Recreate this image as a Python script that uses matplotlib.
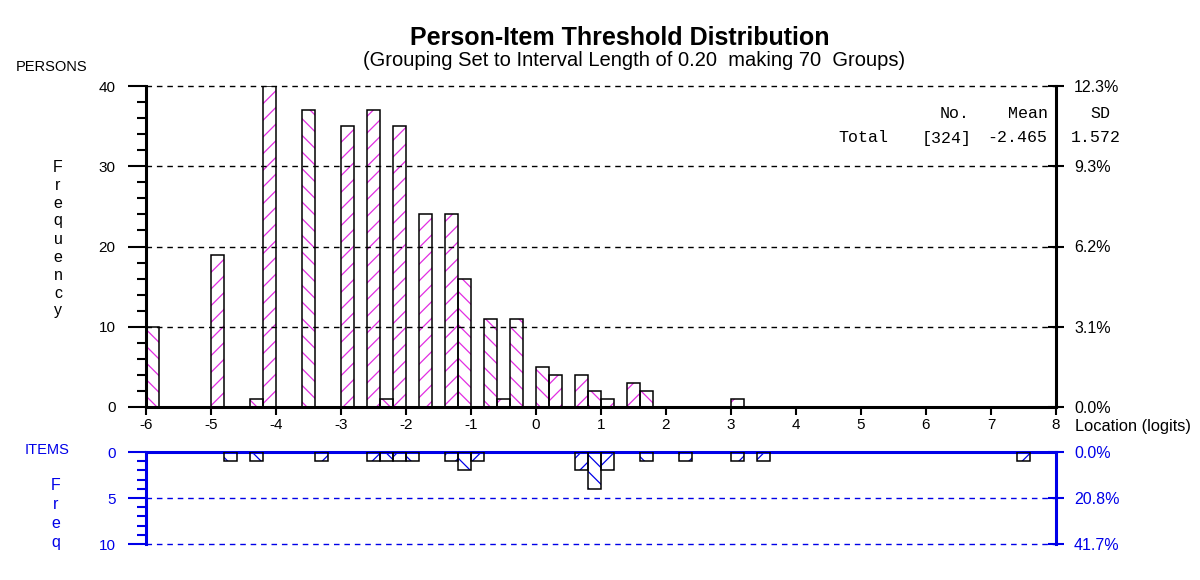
import matplotlib
matplotlib.use("Agg")
import matplotlib.pyplot as plt
from matplotlib.ticker import FixedLocator, MultipleLocator

plt.rcParams["font.family"] = ["Liberation Sans", "DejaVu Sans"]
plt.rcParams["axes.unicode_minus"] = False
plt.rcParams["hatch.linewidth"] = 0.9

# ---- data (left edge of each 0.20-logit group) ----
person_loc = [-6.0, -5.0, -4.4, -4.2, -3.6, -3.0, -2.6, -2.4, -2.2, -1.8, -1.4, -1.2,
              -0.8, -0.6, -0.4, 0.0, 0.2, 0.6, 0.8, 1.0, 1.4, 1.6, 3.0]
person_n = [10, 19, 1, 40, 37, 35, 37, 1, 35, 24, 24, 16,
            11, 1, 11, 5, 4, 4, 2, 1, 3, 2, 1]
item_loc = [-4.8, -4.4, -3.4, -2.6, -2.4, -2.2, -2.0, -1.4, -1.2, -1.0,
            0.6, 0.8, 1.0, 1.6, 2.2, 3.0, 3.4, 7.4]
item_n = [1, 1, 1, 1, 1, 1, 1, 1, 2, 1, 2, 4, 2, 1, 1, 1, 1, 1]
person_mean = -2.465
person_sd = 1.572

GROUP_W = 0.20
x_ticks = list(range(-6, 9))
person_yticks = [0, 10, 20, 30, 40]
item_yticks = [0, 5, 10]

MAGENTA = "#e22de2"
BLUE = "#0000e8"
W, H = 1200, 580

fig = plt.figure(figsize=(12, 5.8), dpi=100)


def px_axes(l, t, r, b):
    return fig.add_axes([l / W, 1 - b / H, (r - l) / W, (b - t) / H])


def ftxt(x, y, s, **kw):
    kw.setdefault("ha", "center")
    kw.setdefault("va", "center")
    return fig.text(x / W, 1 - y / H, s, **kw)


def draw_bars(a, locs, counts, hcol):
    # hatch direction alternates with the group index
    for x, n in zip(locs, counts):
        h = "//" if round((x + 6) / GROUP_W) % 2 else "\\\\"
        a.bar(x, n, width=GROUP_W, align="edge", color="none", edgecolor=hcol,
              hatch=h, lw=0, zorder=2)
    a.bar(locs, counts, width=GROUP_W, align="edge", color="none",
          edgecolor="black", lw=1.1, zorder=3)


# ---------------- persons (top) ----------------
ax = px_axes(146, 86, 1056, 407)
draw_bars(ax, person_loc, person_n, MAGENTA)
ax.set_xlim(-6, 8)
ax.set_ylim(0, 40)
ax.set_xticks(x_ticks)
ax.yaxis.set_major_locator(FixedLocator(person_yticks))
ax.yaxis.set_minor_locator(MultipleLocator(2))
for s in ("top", "right"):
    ax.spines[s].set_visible(False)
for s in ("left", "bottom"):
    ax.spines[s].set_linewidth(2.2)
ax.tick_params(axis="y", which="major", direction="out", length=13, width=1.5,
               pad=9, labelsize=11)
ax.tick_params(axis="y", which="minor", direction="out", length=6.5, width=1.5)
ax.tick_params(axis="x", direction="out", length=6, width=1.5, pad=2, labelsize=11)
ax.yaxis.grid(True, ls=(0, (4, 3.5)), color="black", lw=1)
ax.set_axisbelow(False)
for gl in ax.get_ygridlines():
    gl.set_clip_on(False)

total_p = sum(person_n)
axr = ax.twinx()
axr.set_ylim(0, 40)
axr.set_yticks(person_yticks)
axr.set_yticklabels([f"{v / total_p * 100:.1f}%" for v in person_yticks])
for s in ("top", "left", "bottom"):
    axr.spines[s].set_visible(False)
axr.spines["right"].set_linewidth(2.2)
axr.tick_params(axis="y", direction="inout", length=12, width=1.5, pad=7,
                labelsize=11.5)

# ---------------- items (bottom, hanging down) ----------------
axi = px_axes(146, 452, 1056, 544)
draw_bars(axi, item_loc, item_n, BLUE)
axi.set_xlim(-6, 8)
axi.set_ylim(10, 0)
axi.set_xticks([])
axi.yaxis.set_major_locator(FixedLocator(item_yticks))
axi.yaxis.set_minor_locator(MultipleLocator(1))
for s in ("bottom", "right"):
    axi.spines[s].set_visible(False)
for s in ("top", "left"):
    axi.spines[s].set_linewidth(2.2)
    axi.spines[s].set_color(BLUE)
axi.tick_params(axis="y", which="major", direction="out", length=13, width=1.5,
                pad=9, labelsize=11, color=BLUE, labelcolor=BLUE)
axi.tick_params(axis="y", which="minor", direction="out", length=6.5, width=1.5,
                color=BLUE)
axi.yaxis.grid(True, ls=(0, (4, 3.5)), color=BLUE, lw=1)
axi.set_axisbelow(False)
for gl in axi.get_ygridlines():
    gl.set_clip_on(False)

total_i = sum(item_n)
axir = axi.twinx()
axir.set_ylim(10, 0)
axir.set_yticks(item_yticks)
axir.set_yticklabels([f"{v / total_i * 100:.1f}%" for v in item_yticks])
for s in ("top", "left", "bottom"):
    axir.spines[s].set_visible(False)
axir.spines["right"].set_linewidth(2.2)
axir.spines["right"].set_color(BLUE)
axir.tick_params(axis="y", direction="inout", length=12, width=1.5, pad=7,
                 labelsize=11.5, color=BLUE, labelcolor=BLUE)

# ---------------- labels ----------------
ftxt(620, 38, "Person-Item Threshold Distribution", fontsize=18, weight="bold")
ftxt(634, 61, "(Grouping Set to Interval Length of 0.20  making 70  Groups)",
     fontsize=14.5)
ftxt(52, 67, "PERSONS", fontsize=10.5)
ftxt(58, 239, "\n".join("Frequency"), fontsize=11.5, linespacing=1.25)
ftxt(1075, 427, "Location (logits)", ha="left", fontsize=11.8)
ftxt(47, 450, "ITEMS", fontsize=10.5, color=BLUE)
ftxt(56, 514, "\n".join("Freq"), fontsize=11.5, linespacing=1.35, color=BLUE)

mono = dict(family="Liberation Mono", fontsize=12, ha="right")
ftxt(970, 113, "No.", **mono)
ftxt(1048, 113, "Mean", **mono)
ftxt(1110, 113, "SD", **mono)
ftxt(838, 138, "Total", **{**mono, "ha": "left"})
ftxt(972, 138, f"[{total_p}]", **mono)
ftxt(1047, 138, f"{person_mean:.3f}", **mono)
ftxt(1121, 138, f"{person_sd:.3f}", **mono)

fig.savefig("out.png", dpi=100)
